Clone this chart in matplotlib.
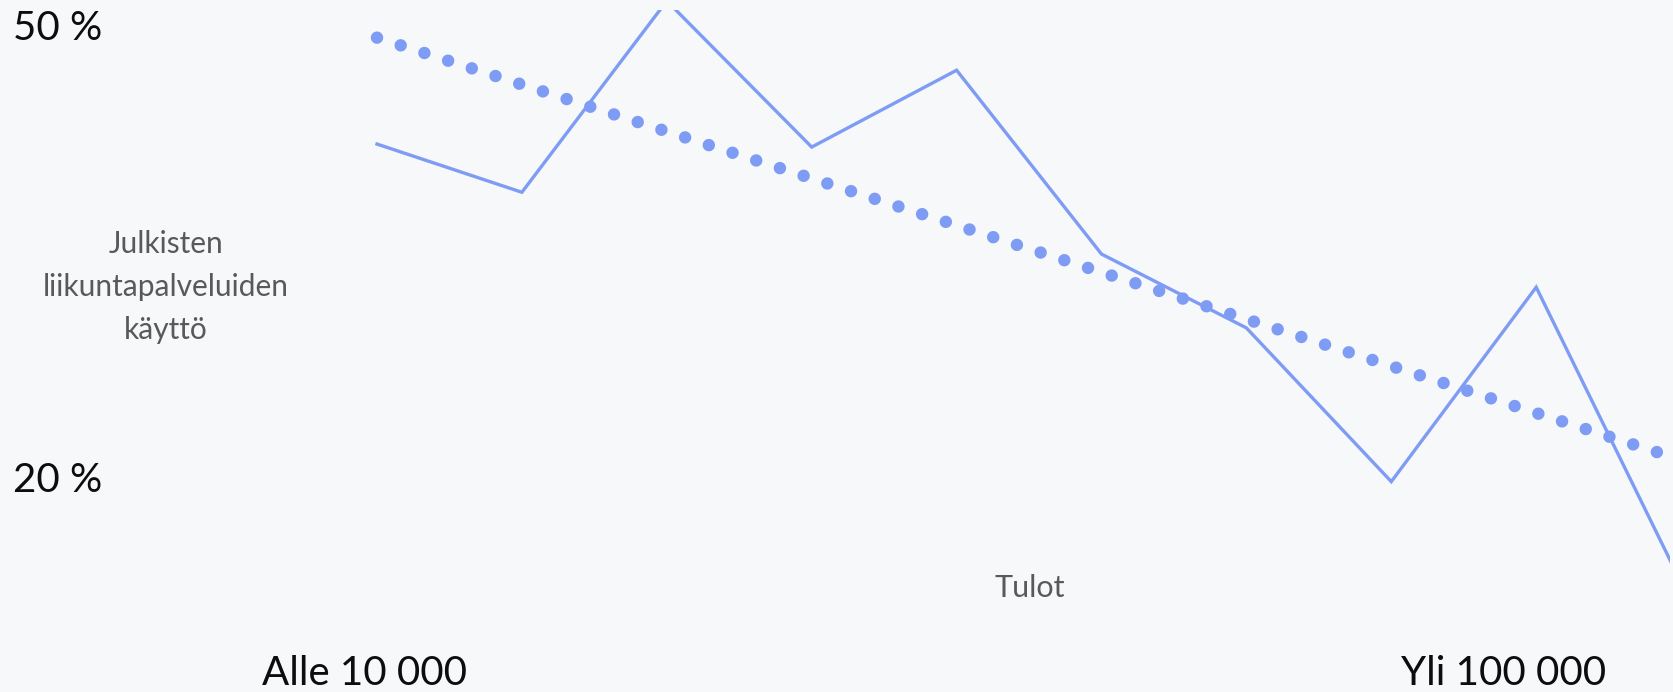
import matplotlib
matplotlib.use("Agg")
import matplotlib.pyplot as plt
import matplotlib.transforms as mtransforms
import numpy as np

# ---------------- data ----------------
income_groups = list(range(10))          # income classes, from "Alle 10 000" to "Yli 100 000"
usage_pct = [42.1, 38.9, 51.6, 41.9, 47.0, 34.8, 29.9, 19.7, 32.6, 13.0]
y_tick_values = [50, 20]
y_tick_labels = ["50 %", "20 %"]
x_end_labels = ["Alle 10 000", "Yli 100 000"]
y_title_lines = ["Julkisten", "liikuntapalveluiden", "käyttö"]
x_title = "Tulot"

# ---------------- style / layout ----------------
W, H, DPI = 1673, 692, 100
BG = "#F7F8FA"
LINE = "#7F9CF5"
GREY = "#595959"
DARK = "#0D0D0D"
FONT = ["Lato", "DejaVu Sans"]

X0_PX, STEP_PX = 377.0, 144.9          # pixel of first category, spacing
Y50_PX, PX_PER_PCT = 25.0, 15.07       # pixel row of 50 %, pixels per percent
AX_RIGHT_PX, AX_TOP_PX = 1670.0, 10.0

plt.rcParams["font.family"] = FONT
fig = plt.figure(figsize=(W / DPI, H / DPI), dpi=DPI, facecolor=BG)
ax = fig.add_axes([0, 0, AX_RIGHT_PX / W, (H - AX_TOP_PX) / H])
ax.set_xlim(-X0_PX / STEP_PX, (AX_RIGHT_PX - X0_PX) / STEP_PX)
ax.set_ylim(50 - (H - Y50_PX) / PX_PER_PCT, 50 + (Y50_PX - AX_TOP_PX) / PX_PER_PCT)
ax.axis("off")

x = np.array(income_groups, dtype=float)
y = np.array(usage_pct)
ax.plot(x, y, color=LINE, lw=2.4, solid_joinstyle="miter", zorder=2)

# linear trend line (as in the original chart)
slope, intercept = np.polyfit(x, y, 1)
xt = np.array([x[0], x[-1]])
dot_lw_pt = 12.5 * 72 / DPI
ax.plot(xt, intercept + slope * xt, color=LINE, lw=dot_lw_pt,
        linestyle=(0, (0.001, 24.9 / 12.5)), dash_capstyle="round", zorder=3)

# y tick labels tied to the data scale
trans = mtransforms.blended_transform_factory(fig.transFigure, ax.transData)
trans = mtransforms.offset_copy(trans, fig=fig, y=-15, units="dots")
for v, lab in zip(y_tick_values, y_tick_labels):
    ax.text(13 / W, v, lab, transform=trans, ha="left", va="baseline",
            fontsize=29, fontweight="normal", color=DARK)

def ftext(xpx, ybase_px, s, **kw):
    fig.text(xpx / W, 1 - ybase_px / H, s, ha="center", va="baseline", **kw)

ftext(364, 685, x_end_labels[0], fontsize=29, color=DARK)
ftext(1504, 685, x_end_labels[1], fontsize=29, color=DARK)

for i, line in enumerate(y_title_lines):
    ftext(166, 253 + 43 * i, line, fontsize=21.5, color=GREY)

ftext(1030, 597, x_title, fontsize=22, color=GREY)

fig.savefig("out.png", dpi=DPI, facecolor=BG)
